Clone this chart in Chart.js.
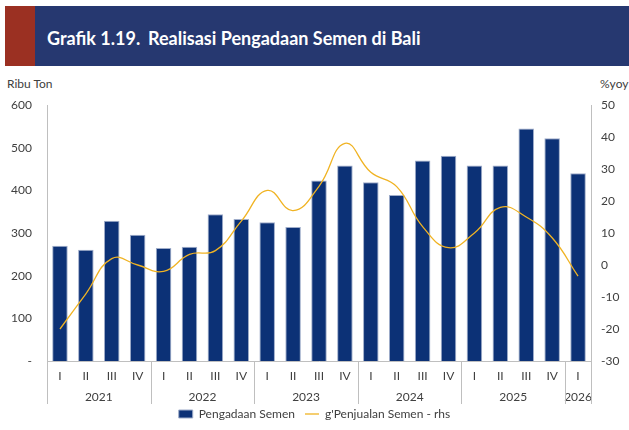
<!DOCTYPE html>
<html>
<head>
<meta charset="utf-8">
<script src="https://cdn.jsdelivr.net/npm/chart.js@4.4.1/dist/chart.umd.min.js"></script>
<style>
  body { margin: 0; background: #fff; width: 629px; height: 430px; overflow: hidden; position: relative; font-family: "Lato", sans-serif; }
  #head { position: absolute; left: 5px; top: 6px; width: 624px; height: 60px; background: #263870; }
  #head .red { position: absolute; left: 0; top: 0; width: 30px; height: 60px; background: #9b3022; }
  #head span { position: absolute; top: 21px; color: #fff; font-weight: 700; font-size: 18px; }
  .unit { position: absolute; top: 76px; font-size: 12px; color: #404040; }
  #wrap { position: absolute; left: 0; top: 66px; width: 629px; height: 364px; }
</style>
</head>
<body>
<div id="head"><div class="red"></div><span style="left:42px">Grafik 1.19.</span><span style="left:143px">Realisasi Pengadaan Semen di Bali</span></div>
<div class="unit" style="left:7px">Ribu Ton</div>
<div class="unit" style="left:600px">%yoy</div>
<div id="wrap"><canvas id="chart"></canvas></div>
<script>
const quarters = ['I','II','III','IV','I','II','III','IV','I','II','III','IV','I','II','III','IV','I','II','III','IV','I'];
const yearOfQuarter = ['2021','2021','2021','2021','2022','2022','2022','2022','2023','2023','2023','2023',
  '2024','2024','2024','2024','2025','2025','2025','2025','2026'];
const pengadaan = [270, 261, 329, 296, 265, 268, 344, 333, 325, 314, 423, 458, 419, 389, 470, 481, 458, 458, 545, 522, 440];
const penjualanYoy = [-20, -9, 2, 0, -2, 3.3, 4.5, 13.7, 23.3, 17, 24.6, 38, 29, 24.5, 12, 5.4, 10, 18, 15, 8.5, -3.5];

const textColor = '#404040';
const axisColor = '#bfbfbf';
const tickFont = { family: 'Lato', size: 12 };

const groupPlugin = {
  id: 'groups',
  afterDraw(chart) {
    const { ctx, chartArea } = chart;
    const x = chart.scales.x;
    const bottom = chartArea.bottom;
    const lineEnd = bottom + 43;
    ctx.save();
    ctx.strokeStyle = axisColor;
    ctx.lineWidth = 1;
    ctx.fillStyle = textColor;
    ctx.font = '12px Lato';
    ctx.textAlign = 'center';
    ctx.textBaseline = 'middle';
    const edge = i => {
      if (i <= 0) return x.left;
      if (i >= quarters.length) return x.right;
      return (x.getPixelForValue(i - 1) + x.getPixelForValue(i)) / 2;
    };
    let start = 0;
    for (let i = 1; i <= quarters.length; i++) {
      if (i === quarters.length || yearOfQuarter[i] !== yearOfQuarter[start]) {
        const a = edge(start), b = edge(i);
        ctx.fillText(yearOfQuarter[start], (a + b) / 2, bottom + 36);
        start = i;
      }
    }
    for (let i = 0; i <= quarters.length; i++) {
      if (i === 0 || i === quarters.length || yearOfQuarter[i] !== yearOfQuarter[i - 1]) {
        const px = Math.round(edge(i)) + 0.5;
        ctx.beginPath();
        ctx.moveTo(px, bottom);
        ctx.lineTo(px, lineEnd);
        ctx.stroke();
      }
    }
    ctx.restore();
  }
};

new Chart(document.getElementById('chart'), {
  type: 'bar',
  data: {
    labels: quarters,
    datasets: [{
      type: 'bar',
      label: 'Pengadaan Semen',
      data: pengadaan,
      backgroundColor: '#0c3176',
      borderColor: '#9fadca',
      borderWidth: 1,
      barPercentage: 0.6,
      categoryPercentage: 1,
      yAxisID: 'y',
      order: 2
    }, {
      type: 'line',
      label: "g'Penjualan Semen - rhs",
      data: penjualanYoy,
      borderColor: '#f0b323',
      backgroundColor: '#f0b323',
      borderWidth: 1.3,
      pointRadius: 0,
      tension: 0.45,
      yAxisID: 'y1',
      order: 1
    }]
  },
  options: {
    responsive: true,
    maintainAspectRatio: false,
    animation: false,
    layout: { padding: { top: 39, bottom: 0, left: 0, right: 0 } },
    plugins: {
      legend: {
        position: 'bottom',
        labels: {
          usePointStyle: true,
          pointStyleWidth: 14,
          boxHeight: 8,
          padding: 10,
          color: textColor,
          font: { family: 'Lato', size: 12 },
          generateLabels(chart) {
            const items = Chart.defaults.plugins.legend.labels.generateLabels(chart);
            items.forEach(it => {
              it.pointStyle = it.datasetIndex === 0 ? 'rect' : 'line';
            });
            return items.sort((a, b) => a.datasetIndex - b.datasetIndex);
          }
        }
      },
      tooltip: { enabled: false }
    },
    scales: {
      x: {
        grid: { display: false, drawTicks: false },
        border: { display: true, color: axisColor },
        ticks: { color: textColor, font: tickFont, padding: 8, maxRotation: 0, autoSkip: false },
        afterFit(scale) { scale.height = 37; }
      },
      y: {
        position: 'left',
        min: 0, max: 600,
        grid: { display: false, drawTicks: false },
        border: { display: true, color: axisColor },
        ticks: {
          stepSize: 100,
          padding: 15,
          color: textColor,
          font: tickFont,
          callback: v => v === 0 ? '-' : v
        },
        afterFit(scale) { scale.width = 47; }
      },
      y1: {
        position: 'right',
        min: -30, max: 50,
        grid: { display: false, drawTicks: false },
        border: { display: true, color: axisColor },
        ticks: {
          stepSize: 10,
          padding: 10,
          color: textColor,
          font: tickFont
        },
        afterFit(scale) { scale.width = 38; }
      }
    }
  },
  plugins: [groupPlugin]
});
</script>
</body>
</html>
